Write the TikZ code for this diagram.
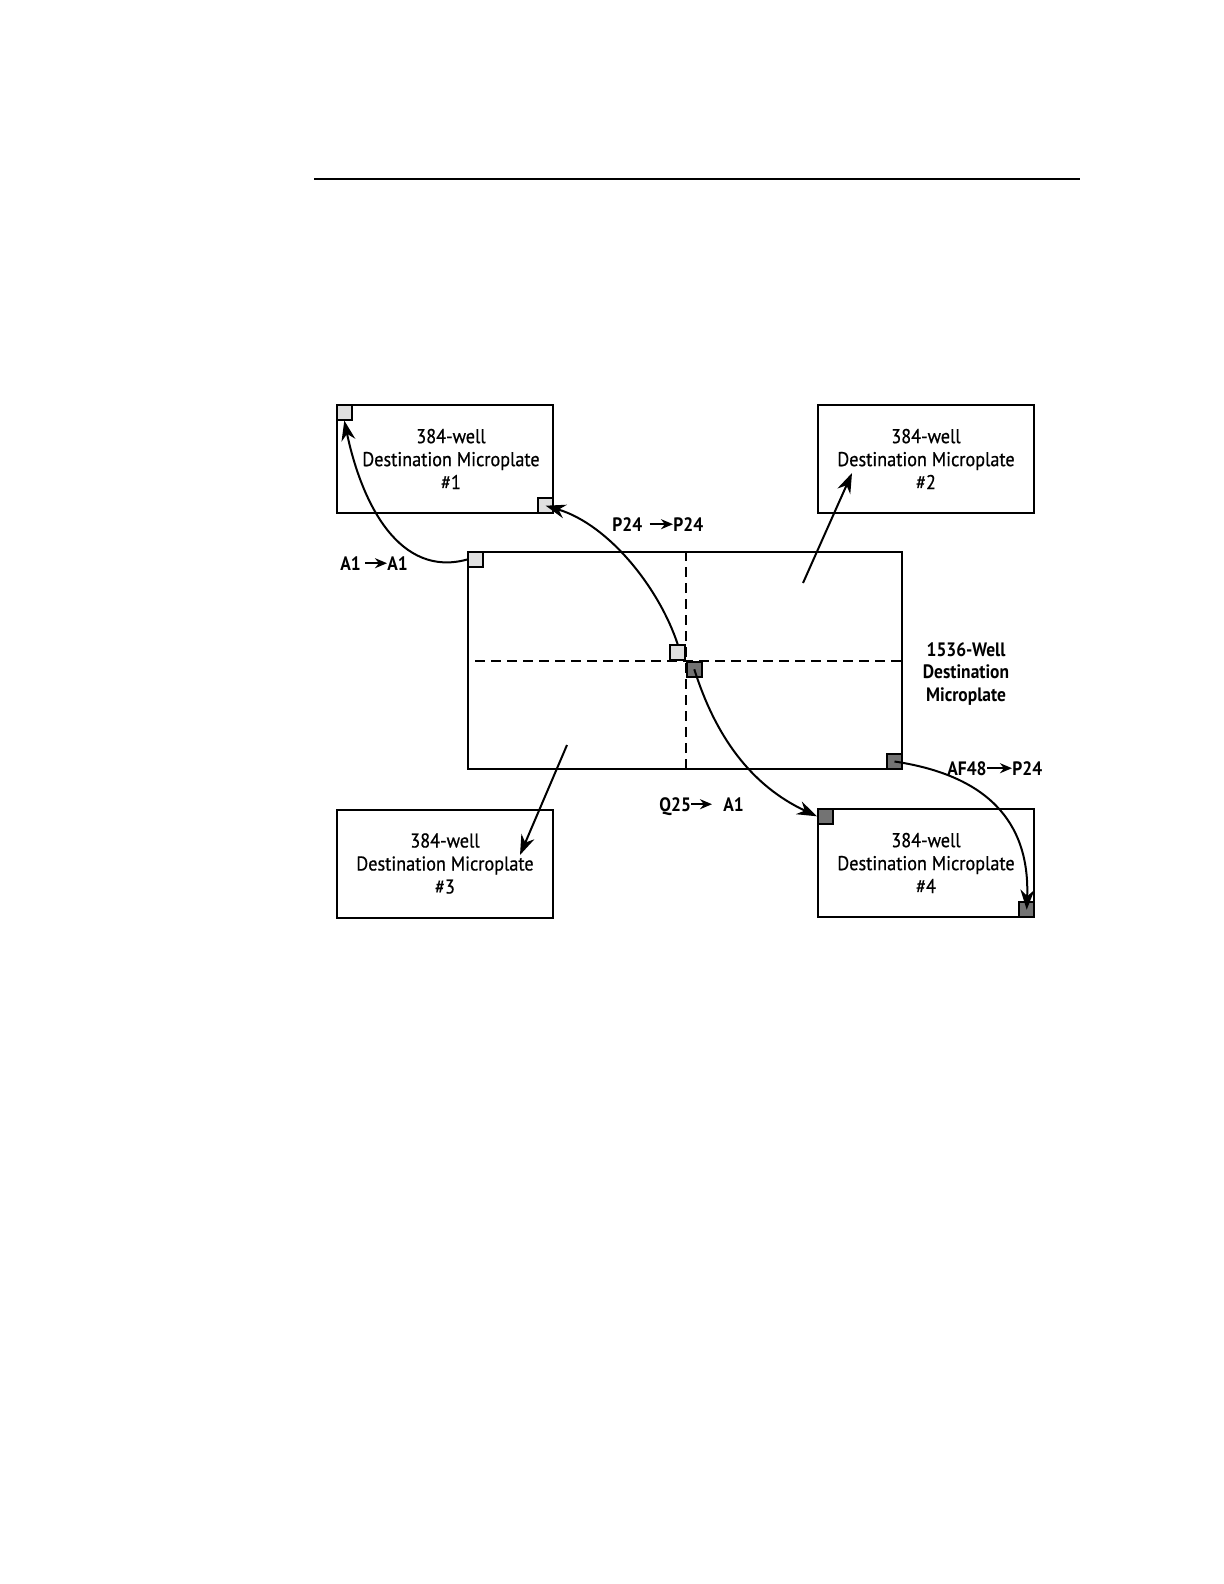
\documentclass[tikz,border=0pt]{standalone}
\usepackage{fontspec}
\setmainfont{PT Sans}[FakeStretch=0.9]
\newfontfamily\platefont{PT Sans}[FakeStretch=0.91,FakeBold=0.6]
\usetikzlibrary{arrows.meta,calc}
\begin{document}
\begin{tikzpicture}[x=0.5pt,y=-0.5pt,
  plate/.style={draw,line width=1pt,minimum width=108pt,minimum height=54pt,inner sep=0pt,align=center,font=\platefont\fontsize{10}{11.5}\selectfont},
  bigplate/.style={draw,line width=0.8pt,minimum width=217pt,minimum height=108.5pt,inner sep=0pt},
  well/.style={draw,line width=0.8pt,minimum size=7.5pt,inner sep=0pt},
  lightwell/.style={well,fill=black!12},
  darkwell/.style={well,fill=black!55},
  lbl/.style={inner sep=0pt,font=\fontsize{9.7}{11}\selectfont\bfseries,text height=6.8pt,text depth=0pt,anchor=base west},
  divider/.style={line width=0.8pt,dash pattern=on 5pt off 3pt},
  move/.style={line width=1pt,-{Stealth[length=10pt,width=7pt]}},
  lblarrow/.style={line width=1.2pt,-{Stealth[length=6pt,width=5pt]}}]
\fill[white] (0,0) rectangle (1224,1584);
\useasboundingbox (0,0) rectangle (1224,1584);

% top rule
\draw[line width=1pt] (314,179) -- (1080,179);

% plates
\node[plate] (b1) at (445,459) {\hspace*{6pt}384-well\\\hspace*{6pt}Destination Microplate\\\hspace*{6pt}\#1};
\node[plate] (b2) at (926,459) {384-well\\Destination Microplate\\\#2};
\node[plate] (b3) at (445,863.5) {384-well\\Destination Microplate\\\#3};
\node[plate] (b4) at (926,863) {384-well\\Destination Microplate\\\#4};
\node[bigplate] (big) at (685,660.5) {};
\node[align=center,inner sep=0pt,font=\fontsize{9.7}{11.3}\selectfont\bfseries] (bigl) at (966,674) {1536-Well\\Destination\\Microplate};

% quadrant dividers
\coordinate (cross) at (686,661);
\draw[divider] (cross |- big.north) -- (cross |- big.south);
\draw[divider] (475,661) -- (big.east |- cross);

% wells
\node[lightwell,anchor=north west] (sq1TL) at (b1.north west) {};
\node[lightwell,anchor=south east] (sq1BR) at (b1.south east) {};
\node[lightwell,anchor=north west] (sqBTL) at (big.north west) {};
\node[lightwell,anchor=south east] (sqLight) at (cross) {};
\node[darkwell,anchor=north west] (sqDark) at (cross) {};
\node[darkwell,anchor=south east] (sqBBR) at (big.south east) {};
\node[darkwell,anchor=north west] (sq4TL) at (b4.north west) {};
\node[darkwell,anchor=south east] (sq4BR) at (b4.south east) {};

% transfer arrows
\draw[move] (sqBTL.west) .. controls (400,578) and (362,505) .. (sq1TL.south);
\draw[move] (sqLight.north) .. controls (660,590) and (610,525) .. (sq1BR.center);
\draw[move] (sqDark.center) .. controls (715,735) and (750,785) .. (sq4TL.west);
\draw[move] (sqBBR.center) .. controls (985,775) and (1030,820) .. (sq4BR.center);
\coordinate (s2) at (803,583);
\coordinate (t2) at (852,473);
\draw[move] (s2) -- (t2);
\coordinate (s3) at (567,745);
\coordinate (t3) at (520,855);
\draw[move] (s3) -- (t3);

% labels
\node[lbl] (la1) at (340,570) {A1};
\node[lbl] (la2) at (387,570) {A1};
\draw[lblarrow] ([xshift=2pt]la1.east) -- (la2.west);
\node[lbl] (lp1) at (612,531) {P24};
\node[lbl] (lp2) at (673,531) {P24};
\draw[lblarrow] ([xshift=3.5pt]lp1.east) -- (lp2.west);
\node[lbl] (lq1) at (659,811) {Q25};
\node[lbl] (lq2) at (723,811) {A1};
\draw[lblarrow] (lq1.east) -- ([xshift=-5.5pt]lq2.west);
\node[lbl] (lf1) at (947,775) {AF48};
\node[lbl] (lf2) at (1012,775) {P24};
\draw[lblarrow] (lf1.east) -- (lf2.west);
\end{tikzpicture}
\end{document}
